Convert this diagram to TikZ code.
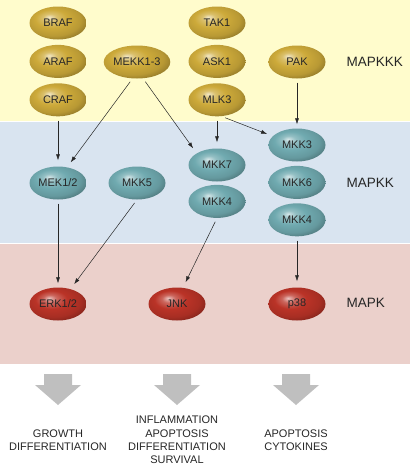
\documentclass[tikz,border=0pt]{standalone}
\usepackage{fontspec}
\setmainfont{Liberation Sans}
\usepackage{tikz}
\usetikzlibrary{shapes.geometric, arrows.meta, positioning}
\definecolor{kkkgold}{HTML}{CDAA3A}
\definecolor{kkblue}{HTML}{70AAB0}
\definecolor{kred}{HTML}{BA3327}
\definecolor{bandyellow}{HTML}{FFFCCC}
\definecolor{bandblue}{HTML}{D9E4F0}
\definecolor{bandpink}{HTML}{EBD0CB}
% lit ball, highlight up left
\newcommand\declareball[2]{%
	\pgfdeclareradialshading{#1}{\pgfpoint{-8bp}{9bp}}{%
		color(0bp)=(#2!30!white); color(6bp)=(#2!75!white); color(14bp)=(#2);
		color(24bp)=(#2!90!black); color(33bp)=(#2!65!black); color(42bp)=(#2!40!black);
		color(50bp)=(#2!30!black)}}
\declareball{ball_kkk}{kkkgold}
\declareball{ball_kk}{kkblue}
\declareball{ball_k}{kred}
\tikzset{
	kinase/.style={ellipse, minimum width=57pt, minimum height=33pt, inner sep=0pt, font=\fontsize{11}{12}\selectfont, text=black!85},
	kinase_kkk/.style={kinase, shading=ball_kkk},
	kinase_kk/.style={kinase, shading=ball_kk},
	kinase_k/.style={kinase, shading=ball_k},
	conn/.style={->, draw=black!85, line width=0.5pt, shorten <=4pt, shorten >=6pt},
	tier_label/.style={anchor=west, font=\fontsize{13.5}{15}\selectfont, text=black!85},
	outcome_text/.style={align=center, font=\fontsize{11}{13.3}\selectfont, text=black!85},
	out_arrow/.style={fill=black!25, draw=none}
}

\begin{document}
\begin{tikzpicture}[x=1pt, y=-1pt, >={Latex[length=6pt,width=4pt]}]
	\useasboundingbox (0,0) rectangle (412,466);
	% tiers
	\fill[bandyellow] (0,0) rectangle (410,121);
	\fill[bandblue] (0,122) rectangle (410,243);
	\fill[bandpink] (0,244) rectangle (410,364);
	% MAPKKK
	\node[kinase_kkk] (braf) at (58,23) {BRAF};
	\node[kinase_kkk, below=5pt of braf] (araf) {ARAF};
	\node[kinase_kkk, below=5pt of araf] (craf) {CRAF};
	\node[kinase_kkk] (mekk) at (137,62) {MEKK1-3};
	\node[kinase_kkk] (tak1) at (217,23) {TAK1};
	\node[kinase_kkk, below=5pt of tak1] (ask1) {ASK1};
	\node[kinase_kkk, below=5pt of ask1] (mlk3) {MLK3};
	\node[kinase_kkk] (pak) at (297,62) {PAK};
	% MAPKK
	\node[kinase_kk] (mek12) at (58,183) {MEK1/2};
	\node[kinase_kk] (mkk5) at (137,183) {MKK5};
	\node[kinase_kk] (mkk7) at (217,165) {MKK7};
	\node[kinase_kk, below=3pt of mkk7] (mkk4a) {MKK4};
	\node[kinase_kk] (mkk3) at (297,145) {MKK3};
	\node[kinase_kk, below=4pt of mkk3] (mkk6) {MKK6};
	\node[kinase_kk, below=4pt of mkk6] (mkk4b) {MKK4};
	% MAPK
	\node[kinase_k] (erk12) at (58,304) {ERK1/2};
	\node[kinase_k] (jnk) at (177,304) {JNK};
	\node[kinase_k] (p38) at (297,304) {p38};
	% tier names
	\node[tier_label] (lkkk) at (343,62) {MAPKKK};
	\node[tier_label] (lkk) at (343,183) {MAPKK};
	\node[tier_label] (lk) at (343,303) {MAPK};
	% cascade
	\draw[conn] (craf) -- (mek12);
	\draw[conn] (mekk.255) -- (mek12.60);
	\draw[conn] (mekk.290) -- (mkk7.150);
	\draw[conn] (mlk3) -- (mkk7);
	\draw[conn] (mlk3.285) -- (mkk3.160);
	\draw[conn, shorten >=4pt] (pak) -- (mkk3);
	\draw[conn, shorten >=4pt] (mek12) -- (erk12);
	\draw[conn] (mkk5.south) -- (erk12.50);
	\draw[conn] (mkk4a.south) -- (jnk.70);
	\draw[conn] (mkk4b) -- (p38);
	% outcomes
	\foreach \cx in {58,177,296}
		\fill[out_arrow] (\cx-14,374) -- (\cx+14,374) -- (\cx+14,385) -- (\cx+23,385)
			-- (\cx,405) -- (\cx-23,385) -- (\cx-14,385) -- cycle;
	\node[outcome_text] (o_erk) at (58,440) {GROWTH\\DIFFERENTIATION};
	\node[outcome_text] (o_jnk) at (177,440) {INFLAMMATION\\APOPTOSIS\\DIFFERENTIATION\\SURVIVAL};
	\node[outcome_text] (o_p38) at (296,440) {APOPTOSIS\\CYTOKINES};
\end{tikzpicture}
\end{document}
